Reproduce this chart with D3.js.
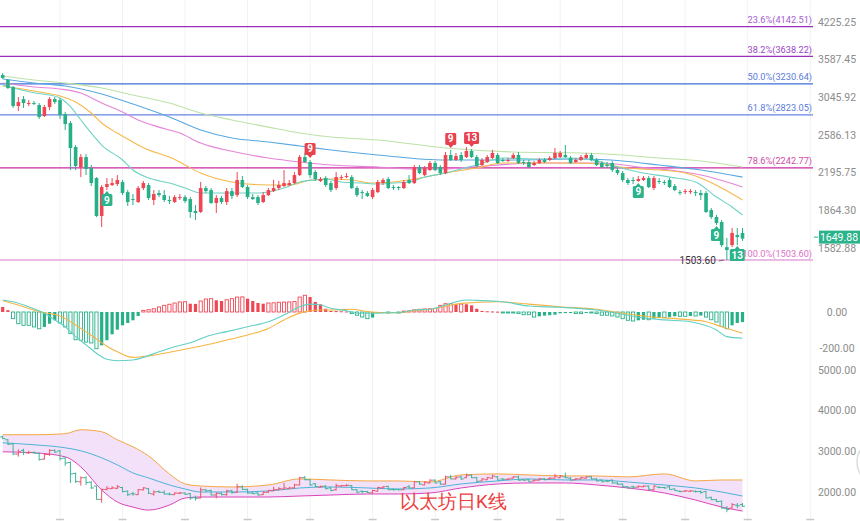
<!DOCTYPE html>
<html>
<head>
<meta charset="utf-8">
<script src="https://cdn.jsdelivr.net/npm/d3@7"></script>
<style>
    body { margin: 0; background: #fff; }
    text { font-family: Roboto, "Liberation Sans", Arial, sans-serif; }
</style>
</head>
<body>
<svg id="chart" width="860" height="521"></svg>
<script>
// daily candles [open, high, low, close]
const candles = [
[3357,3386,3300,3314],[3285,3299,3159,3173],[3186,3200,2909,2934],[2934,3051,2870,2985],
[3024,3064,2909,2972],[2960,3011,2934,2972],[2972,2998,2947,2960],[2947,2972,2773,2797],
[2809,2947,2797,2921],[2921,3051,2883,3024],[3024,3051,2960,2985],[3011,3037,2773,2821],
[2833,2858,2643,2713],[2725,2749,2222,2445],[2456,2477,2222,2261],[2251,2382,2155,2351],
[2351,2382,2174,2232],[2241,2271,2073,2100],[2146,2155,1812,1820],[1820,2082,1735,2064],
[2064,2146,2037,2091],[2082,2146,2073,2100],[2091,2174,2073,2128],[2110,2128,1993,2011],
[2019,2037,1901,1934],[1959,2002,1909,1951],[1934,2073,1926,2055],[2055,2119,2037,2100],
[2082,2100,1951,1968],[1951,2037,1909,2002],[2011,2037,1976,1993],[1993,2037,1934,1951],
[1951,1985,1917,1942],[1934,1993,1926,1976],[1968,2002,1951,1976],[1976,1993,1926,1942],
[1959,1976,1805,1852],[1860,1909,1789,1844],[1852,2110,1844,2055],[2055,2073,2011,2028],
[2037,2055,1917,1926],[1926,1993,1844,1968],[1968,1985,1917,1934],[1934,2055,1909,2028],
[2028,2055,1959,1985],[1993,2203,1976,2128],[2128,2165,2055,2064],[2064,2082,1959,1976],
[1976,2002,1951,1959],[1976,1993,1909,1926],[1934,2019,1926,1993],[1993,2055,1985,2037],
[2028,2128,2019,2055],[2055,2119,2037,2082],[2073,2222,2064,2100],[2082,2128,2073,2100],
[2100,2203,2091,2174],[2174,2372,2165,2351],[2351,2393,2291,2301],[2301,2321,2146,2174],
[2203,2222,2119,2137],[2119,2155,2110,2137],[2146,2165,2064,2082],[2100,2119,2019,2037],
[2055,2203,2037,2155],[2146,2174,2128,2155],[2155,2193,2146,2165],[2155,2174,2046,2055],
[2055,2073,1976,1993],[2019,2037,1959,2011],[2011,2028,1976,1985],[1976,2055,1959,2037],
[2019,2128,2011,2110],[2100,2146,2082,2128],[2137,2155,2046,2055],[2064,2082,2037,2055],
[2064,2073,2037,2055],[2055,2128,2046,2110],[2128,2174,2091,2100],[2100,2271,2091,2251],
[2251,2271,2183,2193],[2174,2261,2165,2241],[2222,2311,2212,2291],[2291,2311,2212,2222],
[2251,2271,2174,2193],[2193,2403,2183,2372],[2372,2424,2311,2321],[2321,2393,2311,2362],
[2372,2403,2301,2321],[2351,2456,2341,2414],[2414,2435,2341,2351],[2351,2372,2251,2261],
[2271,2341,2261,2321],[2301,2372,2291,2351],[2341,2424,2331,2393],[2372,2393,2281,2291],
[2321,2341,2301,2311],[2311,2341,2301,2321],[2341,2393,2331,2372],[2372,2403,2281,2291],
[2301,2321,2271,2291],[2301,2321,2241,2251],[2271,2311,2261,2291],[2291,2341,2281,2321],
[2321,2341,2291,2301],[2321,2362,2311,2341],[2341,2445,2331,2393],[2351,2414,2341,2393],
[2372,2477,2341,2351],[2341,2362,2281,2291],[2301,2341,2291,2321],[2321,2372,2311,2351],
[2341,2393,2331,2372],[2372,2393,2311,2321],[2321,2341,2261,2271],[2291,2311,2241,2251],
[2271,2301,2241,2261],[2291,2311,2203,2222],[2222,2241,2174,2193],[2193,2212,2110,2128],
[2128,2146,2082,2100],[2128,2155,2091,2119],[2119,2165,2110,2137],[2128,2165,2119,2146],
[2146,2165,2055,2064],[2055,2165,2037,2146],[2119,2146,2091,2110],[2110,2128,2082,2100],
[2128,2146,2055,2064],[2073,2091,2028,2037],[2019,2037,1993,2011],[2019,2046,2002,2028],
[2019,2046,2002,2028],[2019,2037,1985,2011],[2011,2037,1951,1993],[2011,2028,1844,1852],
[1868,1885,1797,1812],[1812,1828,1750,1765],[1773,1789,1590,1604],[1590,1654,1503.6,1570],
[1604,1728,1590,1691],[1676,1728,1604,1661],[1691,1728,1633,1649.88]
];

// moving averages [day index, price]
const maTeal = [[0,3214],[6,3107],[9,3077],[11,3037],[13,2925],[15,2761],[17,2609],[19,2477],[23,2321],[25,2222],[28,2146],[32,2100],[35,2055],[38,2011],[44,2011],[49,2011],[54,2055],[57,2110],[60,2128],[62,2137],[65,2110],[69,2100],[72,2091],[75,2100],[78,2110],[81,2155],[85,2193],[88,2232],[91,2271],[96,2341],[103,2331],[109,2341],[114,2311],[118,2251],[122,2203],[128,2155],[133,2110],[137,1976],[140,1893],[142,1828]];
const maOrange = [[0,3200],[6,3131],[11,3064],[14,2985],[17,2846],[19,2725],[22,2609],[25,2509],[28,2424],[32,2351],[35,2271],[38,2193],[44,2110],[51,2082],[55,2082],[57,2100],[59,2128],[63,2137],[67,2128],[71,2100],[75,2110],[79,2137],[83,2174],[86,2203],[91,2241],[96,2291],[103,2291],[109,2291],[115,2281],[120,2241],[126,2222],[131,2193],[134,2146],[138,2055],[142,1951]];
const maPink = [[0,3242],[6,3186],[11,3159],[15,3104],[19,2972],[23,2858],[26,2761],[30,2677],[34,2609],[38,2498],[44,2410],[51,2341],[57,2301],[63,2271],[72,2251],[79,2232],[85,2232],[90,2251],[103,2291],[115,2291],[122,2251],[128,2222],[134,2174],[142,2064]];
const maBlue = [[0,3299],[6,3242],[12,3200],[19,3091],[25,2960],[32,2797],[38,2643],[44,2553],[51,2509],[57,2467],[63,2424],[72,2372],[85,2321],[98,2321],[111,2331],[119,2311],[126,2271],[134,2222],[142,2155]];
const maGreen = [[0,3343],[6,3285],[12,3242],[19,3173],[25,3077],[32,2972],[38,2846],[44,2761],[51,2677],[57,2609],[63,2564],[72,2531],[85,2445],[98,2403],[111,2393],[119,2372],[126,2341],[134,2311],[142,2251]];

// fibonacci retracement levels
const fibNames = ["23.6%", "38.2%", "50.0%", "61.8%", "78.6%", "100.0%"];
const fibValues = [4142.51, 3638.22, 3230.64, 2823.05, 2242.77, 1503.60];

const priceTicks = [4225.25, 3587.45, 3045.92, 2586.13, 2195.75, 1864.30, 1582.88];
const lastPrice = 1649.88;
const lowPrice = 1503.60;

// TD sequential counts [day index, label, above/below]
const tdMarks = [[20,"9","down"],[59,"9","up"],[86,"9","up"],[90,"13","up"],[122,"9","down"],[137,"9","down"],[141,"13","down"]];

// MACD
const macdHist = [28,10,-37,-65,-74,-74,-83,-93,-83,-65,-46,-61,-83,-120,-154,-157,-167,-172,-204,-185,
-157,-124,-98,-74,-61,-46,-22,9,13,18,28,37,43,50,56,57,46,45,61,72,
74,65,61,68,74,83,84,74,61,50,46,50,51,54,55,56,58,83,93,83,
56,43,18,6,5,4,3,-9,-18,-28,-37,-31,-7,-5,-5,-4,-4,5,6,12,
15,17,18,20,37,46,46,43,44,43,37,18,6,4,3,2,-4,-4,-5,-8,
-15,-15,-28,-24,-20,-18,-15,-7,-6,-5,-9,-9,-5,-5,-9,-18,-18,-22,-28,-37,
-46,-50,-46,-43,-43,-37,-31,-31,-28,-24,-24,-24,-22,-22,-20,-28,-43,-56,-80,-93,
-74,-61,-56];
const macdDif = [[0,67],[2,57],[5,29],[8,-7],[10,-44],[12,-82],[14,-137],[16,-183],[18,-229],[20,-263],[22,-271],[25,-267],[27,-252],[30,-221],[33,-193],[36,-171],[39,-137],[43,-109],[47,-82],[51,-54],[54,-17],[57,29],[59,44],[61,39],[63,21],[66,7],[68,-7],[71,-7],[74,-4],[76,-4],[79,11],[82,15],[85,39],[89,67],[92,63],[96,57],[101,33],[107,26],[114,11],[118,-7],[122,-29],[127,-44],[132,-54],[134,-67],[137,-100],[139,-137],[142,-146]];
const macdDea = [[0,63],[3,39],[7,2],[11,-22],[15,-91],[18,-150],[20,-190],[22,-221],[25,-252],[28,-244],[31,-229],[35,-207],[39,-183],[43,-156],[47,-128],[51,-91],[54,-44],[58,2],[61,11],[63,11],[67,15],[70,2],[73,-4],[76,-4],[79,7],[82,15],[88,48],[95,57],[101,44],[107,29],[114,15],[119,-7],[124,-26],[131,-41],[135,-54],[138,-82],[142,-118]];
const macdTicks = [0, -200];

// bollinger bands on the lower panel
const bollIdx = [0,6,12,15,19,22,25,28,32,35,38,44,51,57,63,70,76,82,88,95,101,108,114,120,127,133,138,142];
const bollUpper = [3408,3408,3433,3531,3482,3284,3111,2889,2445,2198,2148,2124,2173,2321,2296,2272,2272,2247,2420,2445,2420,2395,2395,2371,2445,2272,2296,2296];
const bollMid = [3210,3161,3087,3013,2840,2667,2469,2346,2173,2074,2000,2000,2025,2099,2124,2099,2074,2099,2198,2272,2321,2296,2296,2247,2173,2099,2000,1901];
const bollLower = [2988,2963,2865,2618,2049,1753,1630,1555,1679,1852,1877,1877,1877,1901,1926,1951,1951,1975,2099,2198,2222,2222,2173,2099,1975,1802,1630,1531];
const lowerTicks = [5000, 4000, 3000, 2000];

const title = "以太坊日K线";

const UP = "#ef4653", DOWN = "#27b088";

const svg = d3.select("#chart");
const W = 860, H = 521;

const x = d3.scaleLinear().domain([0, 142]).range([2.7, 742.5]);
const yMain = d3.scaleLog().domain([1503.6, 4225.25]).range([260, 22]);
const yMacd = d3.scaleLinear().domain([-200, 0]).range([348, 312]);
const yLow = d3.scaleLinear().domain([2000, 5000]).range([492, 370]);

// faint vertical grid every 12 days
const gridIdx = d3.range(11, 160, 12);
svg.append("g").selectAll("line").data(gridIdx).join("line")
    .attr("x1", d => x(d)).attr("x2", d => x(d))
    .attr("y1", 0).attr("y2", H)
    .attr("stroke", "#f2f2f2").attr("stroke-width", 1);
svg.append("g").selectAll("line").data(gridIdx).join("line")
    .attr("x1", d => x(d) - 4).attr("x2", d => x(d) + 4)
    .attr("y1", 519.5).attr("y2", 519.5)
    .attr("stroke", "#c8c8c8").attr("stroke-width", 1.5);

// ---- main panel ----
const fibLine = ["#9c2fb8", "#9c2fb8", "#3f6fd6", "#6686e0", "#cc2aa6", "#e7a3dc"];
const fibText = ["#a55bd0", "#9b45c8", "#5a7bd8", "#5a7bd8", "#d04aa8", "#e070c8"];
const fib = svg.append("g");
fibValues.forEach((v, k) => {
    fib.append("line")
        .attr("x1", 0).attr("x2", 813)
        .attr("y1", yMain(v)).attr("y2", yMain(v))
        .attr("stroke", fibLine[k]).attr("stroke-width", 1.3);
    fib.append("text")
        .attr("x", 812).attr("y", yMain(v) - 3.5)
        .attr("text-anchor", "end")
        .attr("font-size", 9.2)
        .attr("fill", fibText[k])
        .text(fibNames[k] + "(" + v.toFixed(2) + ")");
});

const maLine = d3.line()
    .x(d => x(d[0])).y(d => yMain(d[1]))
    .curve(d3.curveMonotoneX);
const maSet = [[maGreen, "#bde2a8"], [maBlue, "#58a8e2"], [maPink, "#e584d8"], [maOrange, "#f6b84c"], [maTeal, "#6fd2c4"]];
maSet.forEach(m => {
    svg.append("path").datum(m[0])
        .attr("d", maLine)
        .attr("fill", "none")
        .attr("stroke", m[1]).attr("stroke-width", 1.1);
});

const bw = 3.6;
const cg = svg.append("g");
candles.forEach((c, i) => {
    const col = c[3] >= c[0] ? UP : DOWN;
    cg.append("line")
        .attr("x1", x(i)).attr("x2", x(i))
        .attr("y1", yMain(c[1])).attr("y2", yMain(c[2]))
        .attr("stroke", col).attr("stroke-width", 1);
    const top = yMain(Math.max(c[0], c[3]));
    const bot = yMain(Math.min(c[0], c[3]));
    cg.append("rect")
        .attr("x", x(i) - bw / 2).attr("y", top)
        .attr("width", bw).attr("height", Math.max(1, bot - top))
        .attr("fill", col);
});

// TD sequential labels
tdMarks.forEach(m => {
    const i = m[0], c = candles[i];
    const w = m[1].length > 1 ? 15 : 11, h = 12;
    const cx = x(i);
    let y0, tri;
    const col = m[2] == "up" ? "#e8424f" : "#2bb38b";
    if (m[2] == "up") {
        y0 = yMain(c[1]) - 5 - h;
        tri = [[cx - 2.5, y0 + h], [cx + 2.5, y0 + h], [cx, y0 + h + 3]];
    } else {
        y0 = yMain(c[2]) + 4;
        tri = [[cx - 2.5, y0], [cx + 2.5, y0], [cx, y0 - 3]];
    }
    svg.append("rect").attr("x", cx - w / 2).attr("y", y0)
        .attr("width", w).attr("height", h).attr("rx", 1.5).attr("fill", col);
    svg.append("path").attr("d", "M" + tri.join("L") + "Z").attr("fill", col);
    svg.append("text").attr("x", cx).attr("y", y0 + 9.5)
        .attr("text-anchor", "middle").attr("font-size", 10).attr("font-weight", "bold")
        .attr("fill", "#fff").text(m[1]);
});

// low marker
const lowIdx = candles.findIndex(c => c[2] == lowPrice);
svg.append("text")
    .attr("x", x(lowIdx) - 11).attr("y", yMain(lowPrice) + 3.5)
    .attr("text-anchor", "end").attr("font-size", 10).attr("fill", "#333")
    .text(lowPrice.toFixed(2));
svg.append("path")
    .attr("d", `M${x(lowIdx) - 8},${yMain(lowPrice) + 1}L${x(lowIdx) - 3},${yMain(lowPrice)}`)
    .attr("stroke", "#555").attr("stroke-width", 0.8);

// price axis
svg.append("g").selectAll("text").data(priceTicks).join("text")
    .attr("x", 837).attr("y", d => yMain(d) + 3.5)
    .attr("text-anchor", "middle").attr("font-size", 10.5).attr("fill", "#8c8c8c")
    .text(d => d.toFixed(2));

// last price tag
const tagY = yMain(lastPrice) - 1.5;
svg.append("line").attr("x1", 814).attr("x2", 818)
    .attr("y1", tagY).attr("y2", tagY)
    .attr("stroke", "#2bb38b").attr("stroke-width", 1);
svg.append("rect").attr("x", 819).attr("y", tagY - 6.5)
    .attr("width", 45).attr("height", 13).attr("fill", "#2bb38b");
svg.append("text").attr("x", 839).attr("y", tagY + 3.7)
    .attr("text-anchor", "middle").attr("font-size", 10.5).attr("fill", "#fff")
    .text(lastPrice.toFixed(2));

// ---- MACD panel ----
const hg = svg.append("g");
macdHist.forEach((v, i) => {
    const prev = i > 0 ? macdHist[i - 1] : null;
    const hollow = prev !== null && (Math.sign(prev) != Math.sign(v) || Math.abs(v) >= Math.abs(prev));
    const col = v >= 0 ? UP : DOWN;
    const y1 = yMacd(Math.max(0, v)), y2 = yMacd(Math.min(0, v));
    const r = hg.append("rect")
        .attr("x", x(i) - 1.6).attr("width", 3.2)
        .attr("y", y1).attr("height", Math.max(1, y2 - y1));
    if (hollow) r.attr("fill", "#fff").attr("stroke", col).attr("stroke-width", 0.9);
    else r.attr("fill", col);
});
const macdLine = d3.line().x(d => x(d[0])).y(d => yMacd(d[1])).curve(d3.curveMonotoneX);
svg.append("path").datum(macdDea).attr("d", macdLine)
    .attr("fill", "none").attr("stroke", "#f6b443").attr("stroke-width", 1.1);
svg.append("path").datum(macdDif).attr("d", macdLine)
    .attr("fill", "none").attr("stroke", "#62cfc4").attr("stroke-width", 1.1);
svg.append("g").selectAll("text").data(macdTicks).join("text")
    .attr("x", 837).attr("y", d => yMacd(d) + 3.5)
    .attr("text-anchor", "middle").attr("font-size", 10.5).attr("fill", "#8c8c8c")
    .text(d => d.toFixed(2));

// ---- lower panel: bollinger + OHLC bars ----
const boll = bollIdx.map((d, k) => ({i: d, u: bollUpper[k], m: bollMid[k], l: bollLower[k]}));
svg.append("path").datum(boll)
    .attr("d", d3.area().x(d => x(d.i)).y0(d => yLow(d.l)).y1(d => yLow(d.u)).curve(d3.curveMonotoneX))
    .attr("fill", "#f0dcf8").attr("opacity", 0.85);
const bl = (k) => d3.line().x(d => x(d.i)).y(d => yLow(d[k])).curve(d3.curveMonotoneX);
svg.append("path").datum(boll).attr("d", bl("u")).attr("fill", "none").attr("stroke", "#f5a742").attr("stroke-width", 1);
svg.append("path").datum(boll).attr("d", bl("m")).attr("fill", "none").attr("stroke", "#4fb3d9").attr("stroke-width", 1);
svg.append("path").datum(boll).attr("d", bl("l")).attr("fill", "none").attr("stroke", "#db45b9").attr("stroke-width", 1);

const og = svg.append("g");
candles.forEach((c, i) => {
    const col = c[3] >= c[0] ? "#e9566a" : "#3fb39a";
    const xi = x(i);
    og.append("path")
        .attr("d", `M${xi},${yLow(c[1])}V${yLow(c[2])}M${xi - 2.6},${yLow(c[0])}H${xi}M${xi},${yLow(c[3])}H${xi + 2.6}`)
        .attr("stroke", col).attr("stroke-width", 1).attr("fill", "none");
});
svg.append("g").selectAll("text").data(lowerTicks).join("text")
    .attr("x", 837).attr("y", d => yLow(d) + 3.5)
    .attr("text-anchor", "middle").attr("font-size", 10.5).attr("fill", "#8c8c8c")
    .text(d => d.toFixed(2));

svg.append("circle").attr("cx", 880).attr("cy", 462).attr("r", 23)
    .attr("fill", "#fff").attr("stroke", "#dedede").attr("stroke-width", 1.5);

svg.append("text")
    .attr("x", 400).attr("y", 508)
    .attr("font-size", 18.5)
    .attr("font-family", "'Noto Sans CJK SC', sans-serif")
    .attr("fill", "#ec3f3f")
    .text(title);
</script>
</body>
</html>
